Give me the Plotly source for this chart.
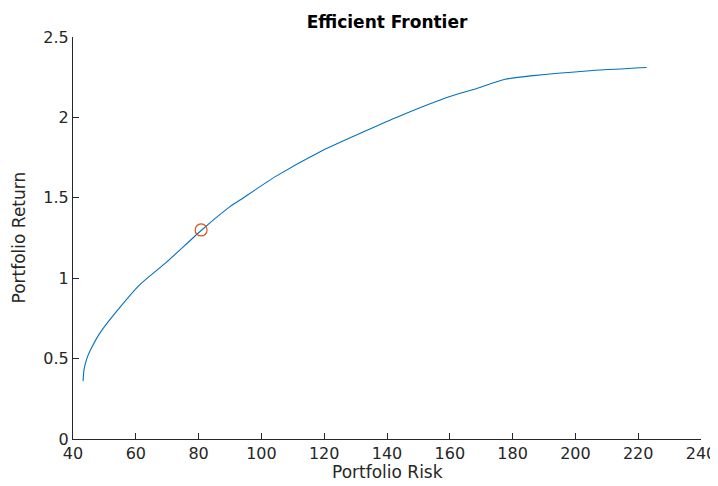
import plotly.graph_objects as go

risk = [43.2, 43.5, 44.4, 46.0, 48.6, 55.0, 61.3, 69.8, 81.0, 90.0, 93.2,
        104.3, 118.7, 132.5, 144.1, 160.0, 168.6, 177.6, 186.6, 203.6, 222.7]
ret = [0.36, 0.43, 0.50, 0.57, 0.66, 0.82, 0.96, 1.10, 1.30, 1.445, 1.486,
       1.63, 1.787, 1.91, 2.009, 2.13, 2.18, 2.237, 2.26, 2.289, 2.31]

opt_risk = [80.8]
opt_ret = [1.30]

x_ticks = [40, 60, 80, 100, 120, 140, 160, 180, 200, 220, 240]
y_ticks = [0, 0.5, 1, 1.5, 2, 2.5]
y_tick_text = ["0", "0.5", "1", "1.5", "2", "2.5"]

font_family = "DejaVu Sans, Verdana, sans-serif"
axis_col = "#262626"

# page body has an 8px margin, so the figure is offset by 8px
W, H = 710, 478

fig = go.Figure()
fig.add_trace(go.Scatter(x=risk, y=ret, mode="lines",
                         line=dict(color="#0072BD", width=1.1, shape="spline", smoothing=0.6),
                         showlegend=False, hoverinfo="skip"))
fig.add_trace(go.Scatter(x=opt_risk, y=opt_ret, mode="markers",
                         marker=dict(symbol="circle-open", size=12,
                                     color="#D95319", line=dict(width=1.2, color="#D95319")),
                         showlegend=False))

fig.update_layout(
    width=W, height=H,
    paper_bgcolor="white", plot_bgcolor="white",
    margin=dict(l=65, r=17, t=29, b=47, autoexpand=False),
    font=dict(family=font_family, color=axis_col, size=16),
    title=dict(text="<b>Efficient Frontier</b>", x=379 / W, xanchor="center",
               xref="container", yref="container",
               y=1 - 14.5 / H, yanchor="middle",
               font=dict(size=17, color="black", family=font_family)),
    xaxis=dict(range=[40, 240], tickvals=x_ticks, ticks="inside", ticklen=6,
               tickcolor=axis_col, showline=True, linecolor=axis_col, linewidth=1,
               showgrid=False, zeroline=False, mirror=False, automargin=False,
               ticklabelstandoff=0, ticklabeloverflow="allow",
               tickfont=dict(size=16)),
    yaxis=dict(range=[0, 2.5], tickvals=y_ticks, ticktext=y_tick_text,
               ticks="inside", ticklen=6, automargin=False,
               tickcolor=axis_col, showline=True, linecolor=axis_col, linewidth=1,
               showgrid=False, zeroline=False, mirror=False,
               tickfont=dict(size=16)),
    annotations=[
        dict(text="Portfolio Risk", xref="paper", yref="paper", x=0.5, y=0,
             xanchor="center", yanchor="middle", yshift=-33, showarrow=False,
             font=dict(size=17, color=axis_col, family=font_family)),
        dict(text="Portfolio Return", xref="paper", yref="paper", x=0, y=0.5,
             xanchor="center", yanchor="middle", xshift=-54.5, textangle=-90,
             showarrow=False,
             font=dict(size=17, color=axis_col, family=font_family)),
    ],
)

fig.write_html("out.html")
